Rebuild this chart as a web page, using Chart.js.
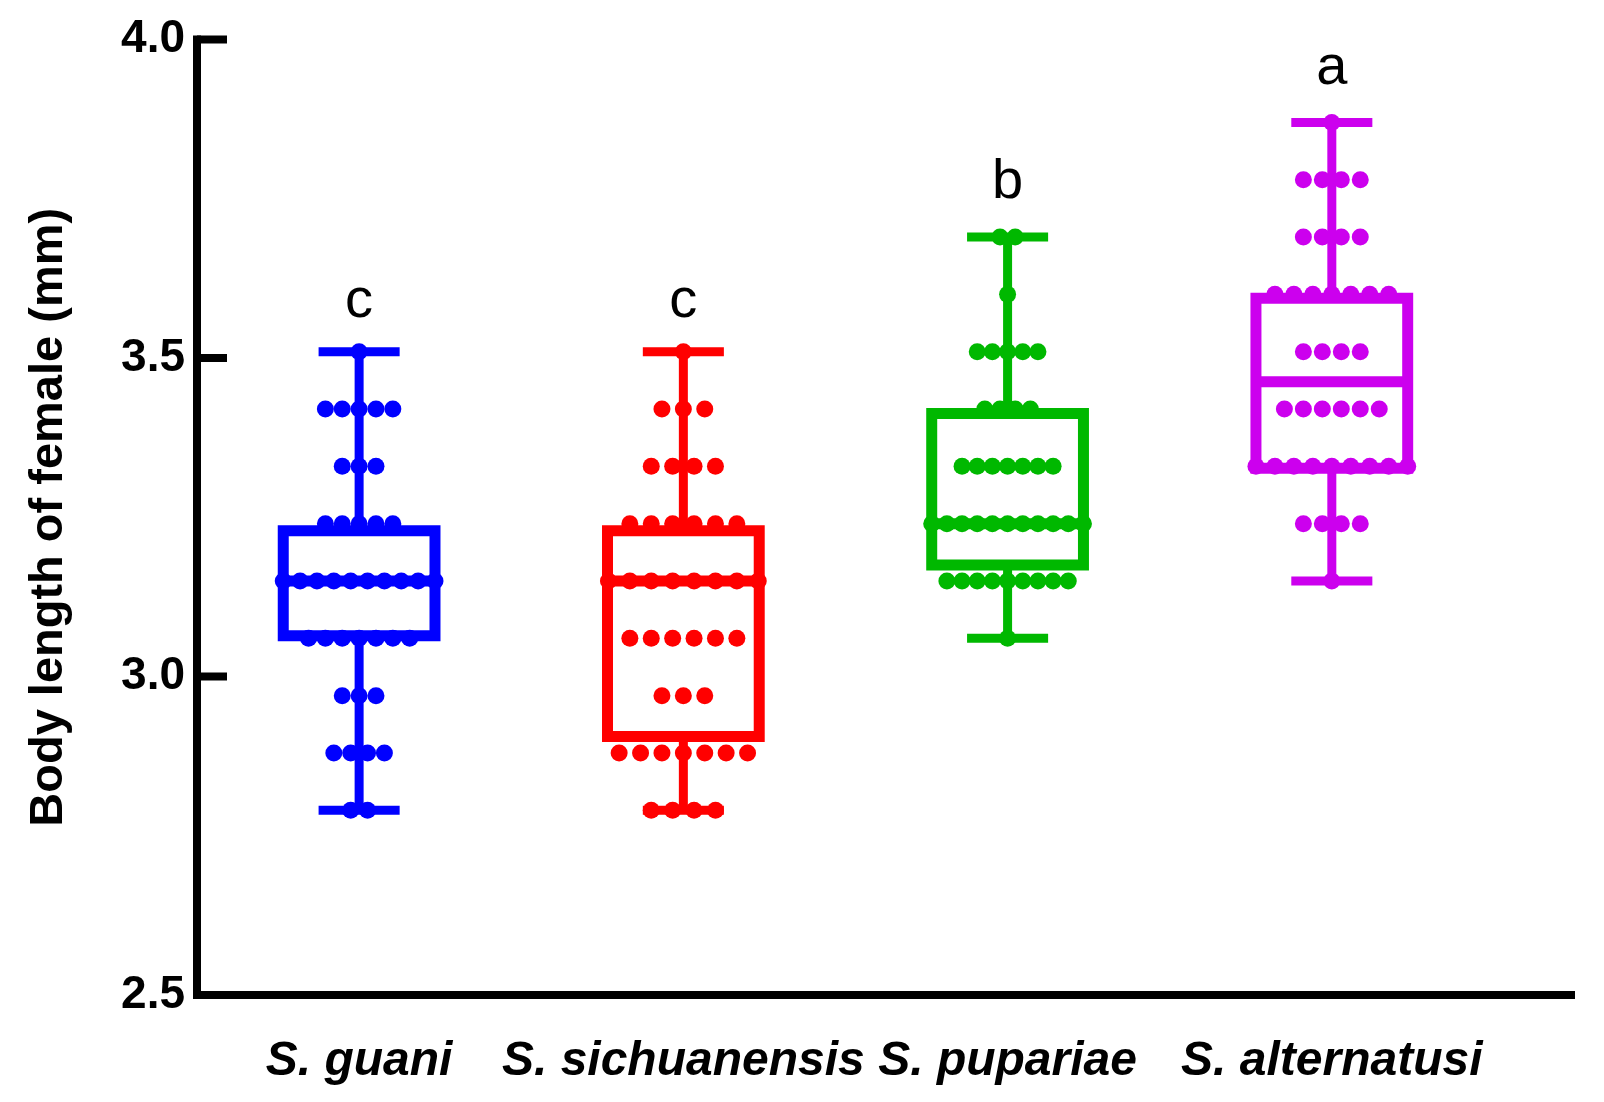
<!DOCTYPE html>
<html>
<head>
<meta charset="utf-8">
<script src="https://cdn.jsdelivr.net/npm/chart.js@4/dist/chart.umd.min.js"></script>
<style>
  html, body { margin: 0; padding: 0; background: #fff; }
  #wrap { width: 1604px; height: 1102px; }
</style>
</head>
<body>
<div id="wrap"><canvas id="c" width="1604" height="1102"></canvas></div>
<script>
// ---------- DATA ----------
const categories = ['S. guani', 'S. sichuanensis', 'S. pupariae', 'S. alternatusi'];
const sigLetters = ['c', 'c', 'b', 'a'];
const levels = [2.79, 2.88, 2.97, 3.06, 3.15, 3.24, 3.33, 3.42, 3.51, 3.60, 3.69, 3.78, 3.87];
const guaniCounts        = [2, 4, 3, 7, 10, 5, 3, 5, 1, 0, 0, 0, 0];
const sichuanensisCounts = [4, 7, 3, 6, 8, 6, 4, 3, 1, 0, 0, 0, 0];
const pupariaeCounts     = [0, 0, 0, 1, 9, 11, 7, 4, 5, 1, 2, 0, 0];
const alternatusiCounts  = [0, 0, 0, 0, 1, 4, 9, 6, 4, 7, 4, 4, 1];
const whiskerLow  = [2.79, 2.79, 3.06, 3.15];
const q1          = [3.064, 2.906, 3.175, 3.327];
const median      = [3.15, 3.15, 3.24, 3.463];
const q3          = [3.229, 3.229, 3.413, 3.594];
const whiskerHigh = [3.51, 3.51, 3.69, 3.87];
const letterY     = [3.565, 3.565, 3.752, 3.93];
const yTicks = [2.5, 3.0, 3.5, 4.0];
const yTitle = 'Body length of female (mm)';

// ---------- STYLE ----------
const colors = ['#0000FF', '#FF0000', '#00B800', '#CC00EE'];
const FONT = "'Liberation Sans', Arial, Helvetica, sans-serif";
const BOX_HALF = 0.234;
const CAP_HALF = 0.125;

const groupCounts = [guaniCounts, sichuanensisCounts, pupariaeCounts, alternatusiCounts];

function dotPoints(g) {
  const counts = groupCounts[g];
  const maxC = Math.max(...counts);
  const sp = Math.min(0.066, (2 * BOX_HALF) / (maxC - 1));
  const pts = [];
  counts.forEach((n, li) => {
    for (let i = 0; i < n; i++) {
      pts.push({ x: g + (i - (n - 1) / 2) * sp, y: levels[li] });
    }
  });
  return pts;
}
function boxPoints(g) {
  const l = g - BOX_HALF, r = g + BOX_HALF;
  return [
    { x: l, y: q1[g] }, { x: r, y: q1[g] }, { x: r, y: q3[g] }, { x: l, y: q3[g] }, { x: l, y: q1[g] },
    { x: g, y: null },
    { x: l, y: median[g] }, { x: r, y: median[g] }
  ];
}
function whiskerPoints(g) {
  return [
    { x: g, y: q3[g] }, { x: g, y: whiskerHigh[g] },
    { x: g, y: null },
    { x: g - CAP_HALF, y: whiskerHigh[g] }, { x: g + CAP_HALF, y: whiskerHigh[g] },
    { x: g, y: null },
    { x: g, y: q1[g] }, { x: g, y: whiskerLow[g] },
    { x: g, y: null },
    { x: g - CAP_HALF, y: whiskerLow[g] }, { x: g + CAP_HALF, y: whiskerLow[g] }
  ];
}

const datasets = [];
categories.forEach((c, g) => {
  datasets.push({
    label: c + ' points', data: dotPoints(g), showLine: false,
    pointRadius: 8.5, pointHoverRadius: 8.5, pointBorderWidth: 0,
    backgroundColor: colors[g], borderColor: colors[g], order: 0
  });
});
categories.forEach((c, g) => {
  datasets.push({
    label: c + ' box', data: boxPoints(g), showLine: true, spanGaps: false,
    pointRadius: 0, borderWidth: 11, borderColor: colors[g], backgroundColor: colors[g],
    borderJoinStyle: 'miter', borderCapStyle: 'square', tension: 0, order: 1
  });
  datasets.push({
    label: c + ' whisker', data: whiskerPoints(g), showLine: true, spanGaps: false,
    pointRadius: 0, borderWidth: 9, borderColor: colors[g], backgroundColor: colors[g],
    borderCapStyle: 'butt', tension: 0, order: 2
  });
});

const axesPlugin = {
  id: 'axesPlugin',
  afterDatasetsDraw(chart) {
    const { ctx, scales: { x, y }, chartArea } = chart;
    ctx.save();
    ctx.strokeStyle = '#000';
    ctx.lineWidth = 8;
    ctx.lineCap = 'butt';
    const x0 = chartArea.left;
    ctx.beginPath();
    ctx.moveTo(x0, y.getPixelForValue(yTicks[yTicks.length - 1]) - 4);
    ctx.lineTo(x0, y.getPixelForValue(yTicks[0]) + 4);
    ctx.stroke();
    ctx.beginPath();
    ctx.moveTo(x0 - 4, chartArea.bottom);
    ctx.lineTo(chartArea.right, chartArea.bottom);
    ctx.stroke();
    ctx.beginPath();
    yTicks.forEach(v => {
      const py = y.getPixelForValue(v);
      ctx.moveTo(x0, py);
      ctx.lineTo(x0 + 30, py);
    });
    ctx.stroke();
    // significance letters
    ctx.fillStyle = '#000';
    ctx.font = '56px ' + FONT;
    ctx.textAlign = 'center';
    ctx.textBaseline = 'alphabetic';
    sigLetters.forEach((t, g) => {
      ctx.fillText(t, x.getPixelForValue(g), y.getPixelForValue(letterY[g]));
    });
    ctx.restore();
  }
};

new Chart(document.getElementById('c'), {
  type: 'scatter',
  data: { datasets },
  options: {
    responsive: false,
    animation: false,
    devicePixelRatio: 1,
    layout: { padding: { top: 35, right: 29, left: 0, bottom: 0 } },
    plugins: { legend: { display: false }, tooltip: { enabled: false } },
    scales: {
      x: {
        type: 'linear', min: -0.5, max: 3.75,
        afterBuildTicks(scale) { scale.ticks = categories.map((c, i) => ({ value: i })); },
        afterFit(scale) { scale.height = 107; },
        grid: { display: false, drawTicks: false },
        border: { display: false },
        ticks: {
          autoSkip: false, maxRotation: 0, padding: 38, color: '#000',
          font: { family: FONT, size: 48, weight: 'bold', style: 'italic' },
          callback: (v) => categories[Math.round(v)]
        }
      },
      y: {
        type: 'linear', min: 2.5, max: 4.0,
        afterBuildTicks(scale) { scale.ticks = yTicks.map(v => ({ value: v })); },
        afterFit(scale) { scale.width = 197; },
        grid: { display: false, drawTicks: false },
        border: { display: false },
        ticks: {
          padding: 12, color: '#000',
          font: { family: FONT, size: 46, weight: 'bold' },
          callback: (v) => Number(v).toFixed(1)
        },
        title: {
          display: true, text: yTitle, color: '#000',
          font: { family: FONT, size: 47, weight: 'bold' },
          padding: { top: 21, bottom: 0 }
        }
      }
    }
  },
  plugins: [axesPlugin]
});
</script>
</body>
</html>
